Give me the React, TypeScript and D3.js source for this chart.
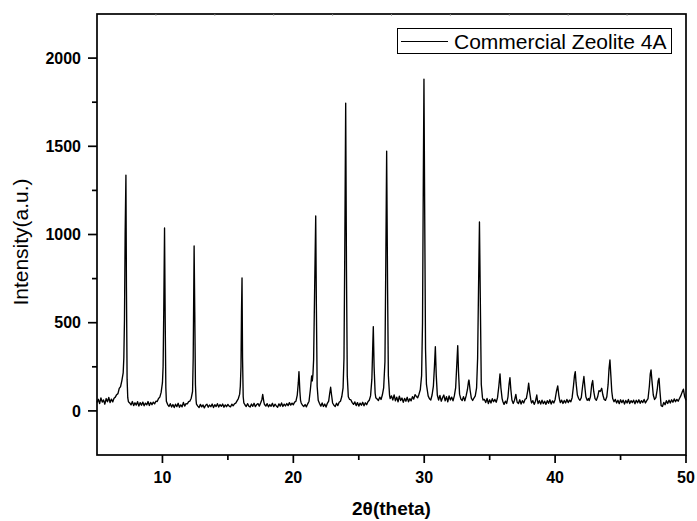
import React from "react";
import * as d3 from "d3";

// 2θ (degrees), intensity (a.u.)
const xrdPattern: [number, number][] = [
  [5.0, 48], [5.1, 66], [5.2, 42], [5.3, 74], [5.4, 50], [5.5, 62], [5.6, 38], [5.7, 70], [5.8, 52], [5.9, 76],
  [6.0, 47], [6.1, 67], [6.2, 51], [6.3, 72], [6.4, 78], [6.5, 92], [6.6, 98], [6.7, 128], [6.8, 138], [6.9, 172],
  [7.0, 215], [7.05, 300], [7.1, 520], [7.15, 1000], [7.21, 1337], [7.25, 700], [7.3, 180], [7.35, 75], [7.4, 52],
  [7.5, 45], [7.6, 34], [7.7, 53], [7.8, 30], [7.9, 46], [8.0, 33], [8.1, 52], [8.2, 27], [8.3, 47], [8.4, 32],
  [8.5, 50], [8.6, 29], [8.7, 44], [8.8, 34], [8.9, 53], [9.0, 31], [9.1, 48], [9.2, 35], [9.3, 50], [9.4, 40],
  [9.5, 55], [9.6, 53], [9.7, 70], [9.8, 78], [9.9, 105], [10.0, 160], [10.05, 250], [10.1, 560], [10.16, 1037],
  [10.21, 520], [10.26, 130], [10.3, 55], [10.4, 36],
  [10.5, 25], [10.6, 41], [10.7, 22], [10.8, 36], [10.9, 19], [11.0, 38], [11.1, 24], [11.2, 43], [11.3, 21],
  [11.4, 34], [11.5, 23], [11.6, 48], [11.7, 27], [11.8, 41], [11.9, 40], [12.0, 53], [12.1, 56], [12.2, 72],
  [12.3, 110], [12.35, 300], [12.42, 935], [12.47, 560], [12.52, 150], [12.57, 60], [12.6, 38],
  [12.7, 27], [12.8, 19], [12.9, 37], [13.0, 23], [13.1, 34], [13.2, 17], [13.3, 32], [13.4, 38], [13.5, 21],
  [13.6, 33], [13.7, 24], [13.8, 39], [13.9, 19], [14.0, 35], [14.1, 25], [14.2, 41], [14.3, 22], [14.4, 36],
  [14.5, 26], [14.6, 39], [14.7, 21], [14.8, 34], [14.9, 24], [15.0, 37], [15.1, 27], [15.2, 23], [15.3, 38],
  [15.4, 29], [15.5, 40], [15.6, 44], [15.7, 57], [15.8, 70], [15.9, 95], [15.95, 140], [16.0, 250],
  [16.04, 560], [16.08, 754], [16.12, 300], [16.17, 80], [16.22, 45], [16.3, 35],
  [16.4, 25], [16.5, 41], [16.6, 27], [16.7, 22], [16.8, 39], [16.9, 26], [17.0, 43], [17.1, 24], [17.2, 36],
  [17.3, 41], [17.4, 27], [17.5, 45], [17.6, 65], [17.66, 94], [17.75, 50], [17.8, 36], [17.9, 27], [18.0, 41],
  [18.1, 23], [18.2, 36], [18.3, 26], [18.4, 43], [18.5, 24], [18.6, 38], [18.7, 28], [18.8, 21], [18.9, 40],
  [19.0, 27], [19.1, 45], [19.2, 25], [19.3, 38], [19.4, 28], [19.5, 42], [19.6, 30], [19.7, 47], [19.8, 33],
  [19.9, 44], [20.0, 35], [20.1, 50], [20.2, 55], [20.3, 90], [20.38, 160], [20.43, 223], [20.5, 110],
  [20.55, 60], [20.6, 45], [20.7, 32], [20.8, 25], [20.9, 36], [21.0, 23], [21.1, 40], [21.2, 55], [21.3, 120],
  [21.4, 198], [21.45, 170], [21.5, 210], [21.55, 290], [21.62, 650], [21.71, 1105], [21.76, 600], [21.82, 140],
  [21.9, 60], [22.0, 42], [22.1, 27], [22.2, 45], [22.3, 25], [22.4, 39], [22.5, 22], [22.6, 43], [22.7, 55],
  [22.78, 100], [22.85, 134], [22.92, 90], [23.0, 45], [23.1, 32], [23.2, 25], [23.3, 43], [23.4, 30], [23.5, 49],
  [23.6, 55], [23.7, 80], [23.8, 130], [23.87, 300], [23.93, 900], [24.0, 1745], [24.06, 800], [24.12, 200],
  [24.2, 80], [24.3, 65], [24.4, 62], [24.5, 47], [24.6, 37], [24.7, 51], [24.8, 30], [24.9, 47], [25.0, 27],
  [25.1, 44], [25.2, 32], [25.3, 49], [25.4, 29], [25.5, 46], [25.6, 35], [25.7, 52], [25.8, 60], [25.9, 85],
  [26.0, 180], [26.05, 320], [26.11, 478], [26.17, 250], [26.25, 100], [26.3, 75], [26.4, 67], [26.5, 59],
  [26.6, 78], [26.7, 65], [26.8, 90], [26.9, 130], [27.0, 280], [27.06, 800], [27.13, 1473], [27.2, 700],
  [27.26, 200], [27.35, 90], [27.4, 70], [27.5, 85], [27.6, 62], [27.7, 91], [27.8, 57], [27.9, 78], [28.0, 52],
  [28.1, 83], [28.2, 59], [28.3, 73], [28.4, 49], [28.5, 71], [28.6, 55], [28.7, 77], [28.8, 52], [28.9, 69],
  [29.0, 57], [29.1, 81], [29.2, 67], [29.3, 92], [29.4, 82], [29.5, 75], [29.6, 95], [29.7, 120], [29.8, 200],
  [29.87, 500], [29.93, 1300], [29.98, 1881], [30.03, 1200], [30.1, 350], [30.17, 150], [30.25, 110], [30.3, 85],
  [30.4, 69], [30.5, 62], [30.6, 90], [30.7, 140], [30.78, 250], [30.85, 364], [30.92, 200], [31.0, 90],
  [31.1, 62], [31.2, 88], [31.3, 55], [31.4, 75], [31.5, 90], [31.6, 57], [31.7, 81], [31.8, 52], [31.9, 85],
  [32.0, 62], [32.1, 78], [32.2, 57], [32.3, 85], [32.4, 130], [32.48, 250], [32.56, 370], [32.62, 220],
  [32.7, 95], [32.8, 67], [32.9, 59], [33.0, 81], [33.1, 57], [33.2, 85], [33.3, 120], [33.38, 165], [33.42, 175],
  [33.5, 120], [33.6, 72], [33.7, 59], [33.8, 73], [33.9, 85], [34.0, 130], [34.08, 300], [34.15, 700],
  [34.22, 1071], [34.29, 600], [34.36, 150], [34.45, 75], [34.5, 62], [34.6, 65], [34.7, 47], [34.8, 71],
  [34.9, 42], [35.0, 63], [35.1, 45], [35.2, 69], [35.3, 52], [35.4, 65], [35.5, 49], [35.6, 75], [35.7, 140],
  [35.79, 210], [35.86, 130], [35.95, 70], [36.0, 55], [36.1, 37], [36.2, 55], [36.3, 42], [36.4, 80],
  [36.48, 150], [36.55, 189], [36.62, 120], [36.7, 62], [36.8, 42], [36.9, 61], [37.0, 94], [37.05, 70],
  [37.1, 49], [37.2, 42], [37.3, 63], [37.4, 39], [37.5, 58], [37.6, 45], [37.7, 65], [37.8, 70], [37.9, 110],
  [37.98, 157], [38.05, 110], [38.15, 60], [38.2, 45], [38.3, 58], [38.4, 37], [38.5, 55], [38.6, 90],
  [38.65, 60], [38.7, 42], [38.8, 58], [38.9, 39], [39.0, 61], [39.1, 41], [39.2, 55], [39.3, 37], [39.4, 58],
  [39.5, 43], [39.6, 63], [39.7, 39], [39.8, 57], [39.9, 45], [40.0, 65], [40.1, 110], [40.2, 142], [40.28, 90],
  [40.35, 60], [40.4, 47], [40.5, 61], [40.6, 42], [40.7, 59], [40.8, 45], [40.9, 65], [41.0, 47], [41.1, 61],
  [41.2, 52], [41.3, 75], [41.4, 140], [41.48, 200], [41.54, 223], [41.6, 160], [41.7, 90], [41.8, 70],
  [41.9, 60], [42.0, 75], [42.1, 140], [42.2, 195], [42.28, 130], [42.35, 80], [42.45, 60], [42.55, 70],
  [42.6, 58], [42.7, 80], [42.8, 150], [42.87, 172], [42.95, 110], [43.05, 70], [43.15, 60], [43.25, 80],
  [43.35, 115], [43.45, 110], [43.56, 128], [43.65, 90], [43.75, 65], [43.85, 60], [43.95, 80], [44.05, 150],
  [44.12, 240], [44.19, 289], [44.26, 200], [44.33, 110], [44.4, 70], [44.5, 52], [44.6, 65], [44.7, 45],
  [44.8, 60], [44.9, 41], [45.0, 63], [45.1, 47], [45.2, 61], [45.3, 39], [45.4, 59], [45.5, 45], [45.6, 65],
  [45.7, 42], [45.8, 58], [45.9, 47], [46.0, 61], [46.1, 40], [46.2, 60], [46.3, 46], [46.4, 63], [46.5, 43],
  [46.6, 58], [46.7, 47], [46.8, 65], [46.9, 45], [47.0, 58], [47.1, 70], [47.2, 140], [47.27, 210],
  [47.33, 232], [47.4, 170], [47.5, 90], [47.6, 65], [47.7, 75], [47.8, 120], [47.87, 170], [47.94, 185],
  [48.0, 120], [48.1, 30], [48.2, 25], [48.3, 48], [48.4, 35], [48.5, 58], [48.6, 42], [48.7, 61], [48.8, 45],
  [48.9, 63], [49.0, 49], [49.1, 68], [49.2, 52], [49.3, 65], [49.4, 55], [49.5, 70], [49.6, 85], [49.7, 105],
  [49.8, 123], [49.9, 80], [50.0, 60],
];

const xDomain: [number, number] = [5, 50];
const yDomain: [number, number] = [-250, 2250];
const xMajorTicks = [10, 20, 30, 40, 50];
const xMinorTicks = [15, 25, 35, 45];
const yMajorTicks = [0, 500, 1000, 1500, 2000];
const yMinorTicks = [250, 750, 1250, 1750];
const seriesName = "Commercial Zeolite 4A";
const xTitle = "2θ(theta)";
const yTitle = "Intensity(a.u.)";

const W = 697;
const H = 521;
const left = 97;
const right = 686;
const top = 14;
const bottom = 455;
const FONT = "'Liberation Sans', Arial, Helvetica, sans-serif";

export default function App() {
  const x = d3.scaleLinear().domain(xDomain).range([left, right]);
  const y = d3.scaleLinear().domain(yDomain).range([bottom, top]);
  const line = d3
    .line<[number, number]>()
    .x((d) => x(d[0]))
    .y((d) => y(d[1]));
  const topTicks = d3.range(1, 10).map((i) => left + ((right - left) * i) / 10);

  return (
    <svg
      width={W}
      height={H}
      style={{ position: "absolute", left: 0, top: 0, background: "#fff" }}
      fontFamily={FONT}
    >
      <rect x={0} y={0} width={W} height={H} fill="#fff" />
      <path d={line(xrdPattern) || ""} fill="none" stroke="#000" strokeWidth={1.35} strokeLinejoin="round" />

      {/* frame */}
      <rect x={left} y={top} width={right - left} height={bottom - top} fill="none" stroke="#000" strokeWidth={1.7} />
      {topTicks.map((t) => (
        <line key={"tt" + t} x1={t} x2={t} y1={top} y2={top + 2} stroke="#999" strokeWidth={0.8} />
      ))}

      {/* y ticks */}
      {yMajorTicks.map((t) => (
        <g key={"ym" + t}>
          <line x1={left - 9} x2={left} y1={y(t)} y2={y(t)} stroke="#000" strokeWidth={1.7} />
          <text x={81} y={y(t)} dy="0.36em" textAnchor="end" fontSize={16} fontWeight="bold">
            {t}
          </text>
        </g>
      ))}
      {yMinorTicks.map((t) => (
        <line key={"yn" + t} x1={left - 5} x2={left} y1={y(t)} y2={y(t)} stroke="#000" strokeWidth={1.7} />
      ))}

      {/* x ticks */}
      {xMajorTicks.map((t) => (
        <g key={"xm" + t}>
          <line x1={x(t)} x2={x(t)} y1={bottom} y2={bottom + 8} stroke="#000" strokeWidth={1.7} />
          <text x={x(t)} y={483} textAnchor="middle" fontSize={16} fontWeight="bold">
            {t}
          </text>
        </g>
      ))}
      {xMinorTicks.map((t) => (
        <line key={"xn" + t} x1={x(t)} x2={x(t)} y1={bottom} y2={bottom + 5} stroke="#000" strokeWidth={1.7} />
      ))}

      {/* axis titles */}
      <text x={(left + right) / 2} y={515} textAnchor="middle" fontSize={19} fontWeight="bold">
        {xTitle}
      </text>
      <text transform={`translate(28,242) rotate(-90)`} textAnchor="middle" fontSize={21}>
        {yTitle}
      </text>

      {/* legend */}
      <rect x={397.5} y={28.5} width={274} height={25} fill="#fff" stroke="#000" strokeWidth={1} />
      <line x1={401} x2={448} y1={41.5} y2={41.5} stroke="#000" strokeWidth={1} />
      <text x={454} y={48.5} fontSize={21}>
        {seriesName}
      </text>
    </svg>
  );
}
